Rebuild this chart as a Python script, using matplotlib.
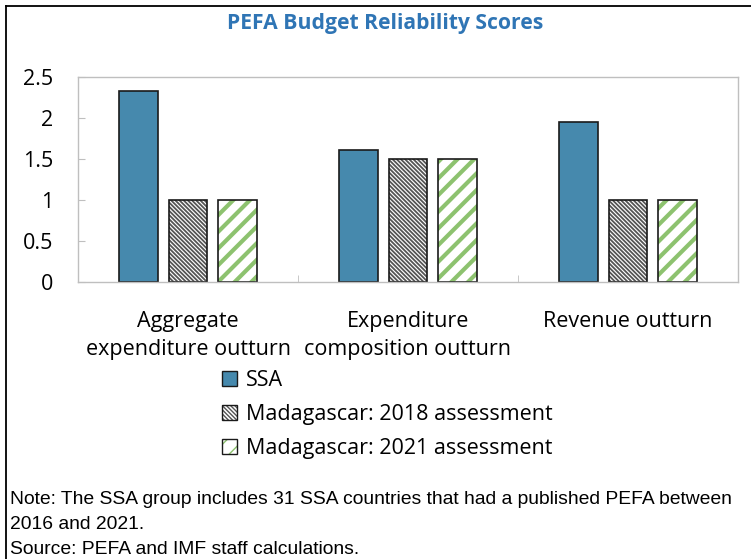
import numpy as np
import matplotlib.pyplot as plt
from matplotlib.lines import Line2D
from matplotlib.patches import Patch

categories = ["Aggregate\nexpenditure outturn", "Expenditure\ncomposition outturn", "Revenue outturn"]
ssa = [2.33, 1.61, 1.95]
mdg_2018 = [1.0, 1.5, 1.0]
mdg_2021 = [1.0, 1.5, 1.0]
series_names = ["SSA", "Madagascar: 2018 assessment", "Madagascar: 2021 assessment"]

blue = '#4689AD'
green = '#8DC26F'
dark = '#1a1a1a'
hatch18 = '\\' * 8
hatch21 = '//'

plt.rcParams['font.family'] = ['Open Sans', 'DejaVu Sans']

fig = plt.figure(figsize=(7.51, 5.59), dpi=100)
ax = fig.add_axes([78/751, 1-282/559, 660/751, 205/559])

x = np.arange(len(categories))
w = 0.177
off = 0.223

ax.bar(x - off, ssa, w, color=blue, edgecolor=dark, lw=1.2)
with plt.rc_context({'hatch.linewidth': 1.3}):
    ax.bar(x, mdg_2018, w, color='white', edgecolor='#555555', hatch=hatch18, lw=0)
with plt.rc_context({'hatch.linewidth': 3.0}):
    ax.bar(x + off, mdg_2021, w, color='white', edgecolor=green, hatch=hatch21, lw=0)
ax.bar(x, mdg_2018, w, fill=False, edgecolor=dark, lw=1.2)
ax.bar(x + off, mdg_2021, w, fill=False, edgecolor=dark, lw=1.2)

ax.set_xlim(-0.5, 2.5)
ax.set_ylim(0, 2.5)
ax.set_yticks([0, 0.5, 1, 1.5, 2, 2.5])
ax.set_yticklabels(['0', '0.5', '1', '1.5', '2', '2.5'])
ax.set_xticks(x)
ax.set_xticklabels(categories, linespacing=1.4)
ax.set_xticks([0.5, 1.5], minor=True)
ax.tick_params(axis='y', direction='in', length=5, color='#BFBFBF', pad=18, labelsize=15.5)
ax.tick_params(axis='x', which='major', length=0, pad=21, labelsize=15.5)
ax.tick_params(axis='x', which='minor', direction='in', length=5, color='#BFBFBF')
for s in ax.spines.values():
    s.set_color('#BFBFBF')
    s.set_linewidth(1.0)

fig.text(385/751, 1-23/559, "PEFA Budget Reliability Scores", ha='center', va='center',
         fontsize=15.2, fontweight='bold', color='#2F75B5')

# legend handles
h1 = Patch(facecolor=blue, edgecolor=dark, lw=1)
with plt.rc_context({'hatch.linewidth': 1.3}):
    h2 = (Patch(facecolor='white', edgecolor='#555555', hatch=hatch18, lw=0),
          Patch(fill=False, edgecolor=dark, lw=1))
with plt.rc_context({'hatch.linewidth': 3.0}):
    h3 = (Patch(facecolor='white', edgecolor=green, hatch=hatch21, lw=0),
          Patch(fill=False, edgecolor=dark, lw=1))
fig.legend([h1, h2, h3], series_names, loc='upper left', bbox_to_anchor=(222/751, 1-370/559),
           frameon=False, fontsize=15.5, handlelength=0.7, handleheight=0.7,
           handletextpad=0.4, labelspacing=0.6, borderpad=0, borderaxespad=0)

note = ["Note: The SSA group includes 31 SSA countries that had a published PEFA between",
        "2016 and 2021.",
        "Source: PEFA and IMF staff calculations."]
for i, t in enumerate(note):
    fig.text(10/751, 1-(500+24.5*i)/559, t, ha='left', va='center', fontsize=13.9,
             family='Liberation Sans')

fig.add_artist(Line2D([6/751, 6/751], [0, 1-6/559], color='black', lw=1.3, transform=fig.transFigure))
fig.add_artist(Line2D([6/751, 1], [1-6/559, 1-6/559], color='black', lw=1.3, transform=fig.transFigure))

fig.savefig('out.png', dpi=100)
